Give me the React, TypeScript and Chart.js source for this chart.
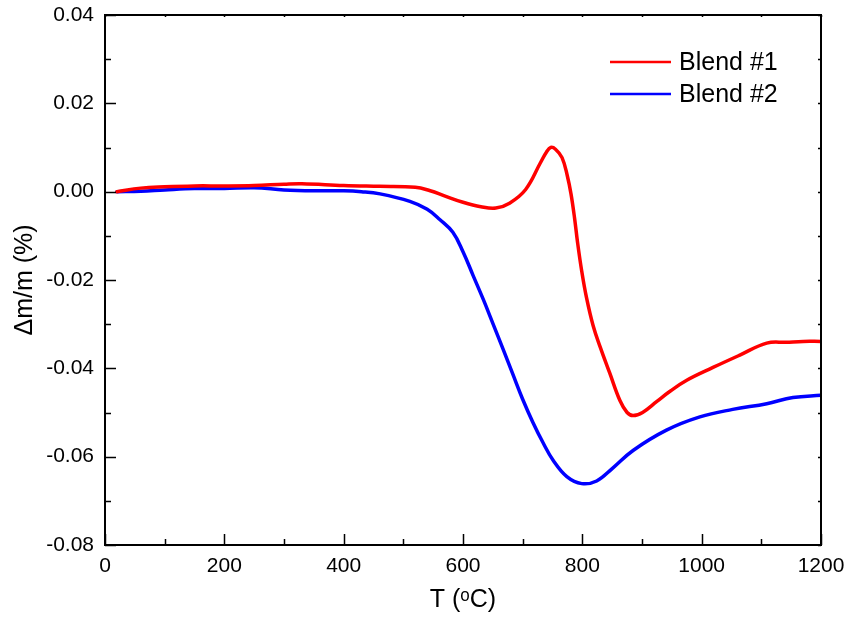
import React, { useEffect, useRef } from "react";
import { Chart, registerables } from "chart.js";

Chart.register(...registerables);

const temps1 = [20, 60, 100, 150, 200, 250, 300, 330, 400, 460, 520, 545, 570, 600, 630, 655, 678, 705, 730, 740, 747, 755, 766, 775, 781, 787, 792, 799, 807, 818, 830, 846, 863, 875, 885, 901, 925, 947, 975, 1019, 1064, 1109, 1142, 1170, 1200];
const blend1 = [0, 0.0008, 0.0011, 0.0013, 0.0013, 0.0014, 0.0017, 0.0018, 0.0014, 0.0012, 0.0010, 0.0002, -0.0010, -0.0024, -0.0034, -0.0037, -0.0026, 0.0005, 0.0066, 0.0090, 0.0100, 0.0096, 0.0077, 0.0035, -0.0005, -0.0060, -0.0115, -0.0180, -0.0240, -0.0303, -0.0352, -0.0411, -0.0473, -0.0500, -0.0507, -0.0500, -0.0475, -0.0452, -0.0427, -0.0398, -0.0370, -0.0343, -0.0341, -0.0339, -0.0339];

const temps2 = [20, 60, 100, 150, 200, 250, 300, 350, 400, 430, 461, 511, 540, 561, 583, 600, 617, 634, 650, 667, 684, 700, 717, 734, 751, 774, 799, 824, 850, 885, 941, 997, 1052, 1109, 1153, 1200];
const blend2 = [0, 0.0001, 0.0004, 0.0007, 0.0007, 0.0009, 0.0004, 0.0002, 0.0002, 0.0, -0.0005, -0.0022, -0.0040, -0.0063, -0.0092, -0.0136, -0.0190, -0.0244, -0.0298, -0.0356, -0.0415, -0.0470, -0.0522, -0.0568, -0.0608, -0.0645, -0.0661, -0.0655, -0.0627, -0.0586, -0.0540, -0.0510, -0.0493, -0.0480, -0.0466, -0.0461];

const seriesNames = ["Blend #1", "Blend #2"];
const seriesColors = ["#ff0000", "#0000ff"];

const xMajorTicks = [0, 200, 400, 600, 800, 1000, 1200];
const xMinorTicks = [100, 300, 500, 700, 900, 1100];
const yMajorTicks = [-0.08, -0.06, -0.04, -0.02, 0, 0.02, 0.04];
const yMinorTicks = [-0.07, -0.05, -0.03, -0.01, 0.01, 0.03];

const FONT = "'Liberation Sans', Arial, sans-serif";

const framePlugin = {
  id: "frame",
  afterDraw(chart: any) {
    const ctx = chart.ctx;
    const a = chart.chartArea;
    const xs = chart.scales.x;
    const ys = chart.scales.y;
    ctx.save();
    ctx.strokeStyle = "#000";
    ctx.lineWidth = 2;
    ctx.strokeRect(a.left, a.top, a.right - a.left, a.bottom - a.top);
    ctx.lineWidth = 1.5;
    ctx.beginPath();
    const tickX = (vals: number[], len: number, topLen: number) => {
      vals.forEach((v) => {
        const px = Math.round(xs.getPixelForValue(v)) + 0.5;
        ctx.moveTo(px, a.bottom);
        ctx.lineTo(px, a.bottom - len);
        ctx.moveTo(px, a.top);
        ctx.lineTo(px, a.top + topLen);
      });
    };
    const tickY = (vals: number[], len: number, rightLen: number) => {
      vals.forEach((v) => {
        const py = Math.round(ys.getPixelForValue(v)) + 0.5;
        ctx.moveTo(a.left, py);
        ctx.lineTo(a.left + len, py);
        ctx.moveTo(a.right, py);
        ctx.lineTo(a.right - rightLen, py);
      });
    };
    tickX(xMajorTicks, 11, 2);
    tickX(xMinorTicks, 6, 2);
    tickY(yMajorTicks, 11, 3);
    tickY(yMinorTicks, 6, 3);
    ctx.stroke();

    // legend
    const lx0 = 610, lx1 = 671, tx = 679;
    const rows = [62, 94];
    chart.data.datasets.forEach((ds: any, i: number) => {
      ctx.strokeStyle = ds.borderColor;
      ctx.lineWidth = 2.5;
      ctx.beginPath();
      ctx.moveTo(lx0, rows[i]);
      ctx.lineTo(lx1, rows[i]);
      ctx.stroke();
      ctx.fillStyle = "#000";
      ctx.font = "25px " + FONT;
      ctx.textBaseline = "middle";
      ctx.textAlign = "left";
      ctx.fillText(ds.label, tx, rows[i] + 1);
    });
    ctx.restore();
  },
};

export default function App() {
  const ref = useRef<HTMLCanvasElement | null>(null);
  useEffect(() => {
    if (!ref.current) return;
    const chart = new Chart(ref.current, {
      type: "line",
      data: {
        datasets: [
          {
            label: seriesNames[0],
            data: temps1.map((t, i) => ({ x: t, y: blend1[i] })),
            borderColor: seriesColors[0],
            borderWidth: 3.5,
            pointRadius: 0,
            tension: 0.4,
            borderJoinStyle: "round",
            borderCapStyle: "round",
            fill: false,
          },
          {
            label: seriesNames[1],
            data: temps2.map((t, i) => ({ x: t, y: blend2[i] })),
            borderColor: seriesColors[1],
            borderWidth: 3.5,
            pointRadius: 0,
            tension: 0.4,
            borderJoinStyle: "round",
            borderCapStyle: "round",
            fill: false,
          },
        ],
      },
      options: {
        animation: false,
        responsive: false,
        maintainAspectRatio: false,
        layout: { padding: { left: 0, top: 15, right: 28, bottom: 0 } },
        plugins: { legend: { display: false }, tooltip: { enabled: false } },
        scales: {
          x: {
            type: "linear",
            min: 0,
            max: 1200,
            afterFit: (s: any) => {
              s.height = 74;
              s.paddingLeft = 0;
              s.paddingRight = 0;
            },
            grid: { display: false, drawTicks: false },
            border: { display: false },
            ticks: {
              stepSize: 200,
              padding: 9,
              color: "#000",
              font: { family: FONT, size: 21 },
              maxRotation: 0,
              callback: (v: any) => String(v),
            },
            title: {
              display: true,
              text: "T (ᵒC)",
              color: "#000",
              font: { family: FONT, size: 25 },
              padding: { top: 0, bottom: 4 },
            },
          },
          y: {
            type: "linear",
            min: -0.08,
            max: 0.04,
            afterFit: (s: any) => {
              s.width = 105;
              s.paddingTop = 0;
              s.paddingBottom = 0;
            },
            grid: { display: false, drawTicks: false },
            border: { display: false },
            ticks: {
              stepSize: 0.02,
              padding: 11,
              color: "#000",
              font: { family: FONT, size: 21 },
              callback: (v: any) => Number(v).toFixed(2),
            },
            title: {
              display: true,
              text: "Δm/m (%)",
              color: "#000",
              font: { family: FONT, size: 25 },
              padding: { top: 10, bottom: 0 },
            },
          },
        },
      },
      plugins: [framePlugin],
    });
    return () => chart.destroy();
  }, []);
  return (
    <div style={{ position: "fixed", left: 0, top: 0, width: 849, height: 619, background: "#fff" }}>
      <canvas ref={ref} width={849} height={619} style={{ display: "block" }} />
    </div>
  );
}
